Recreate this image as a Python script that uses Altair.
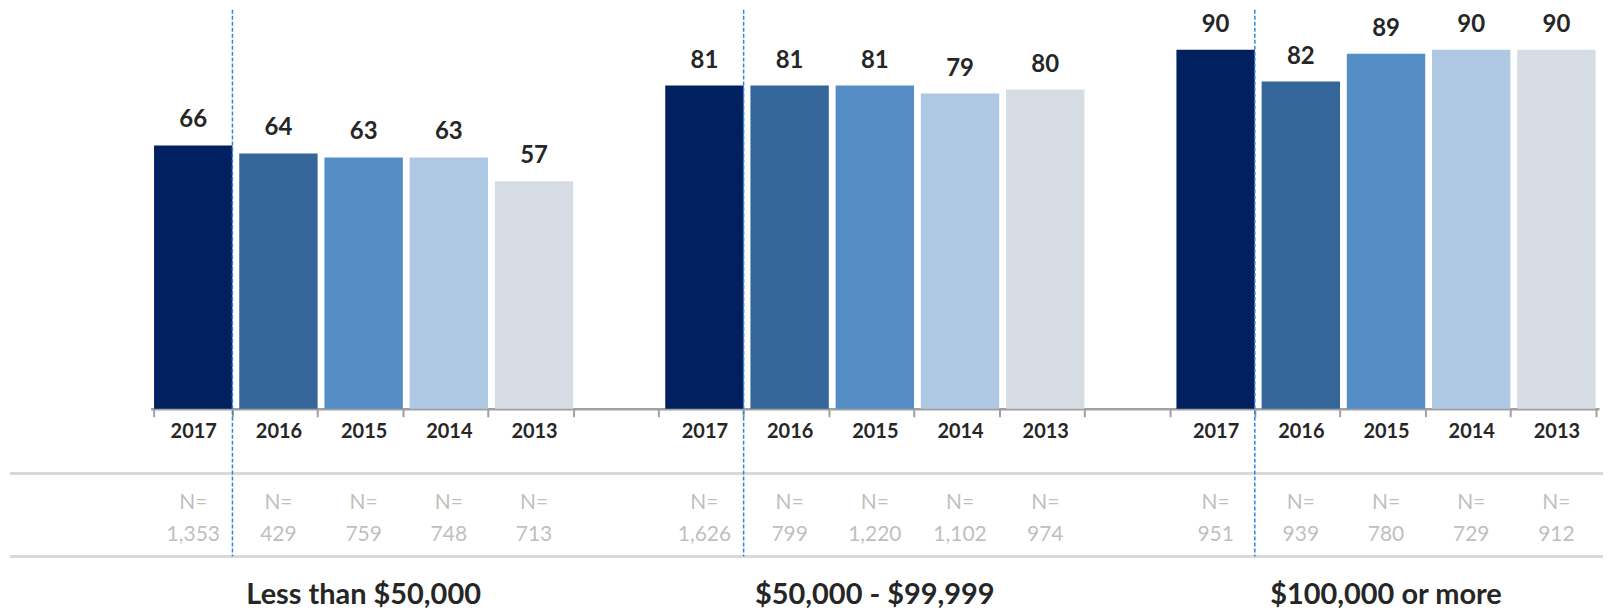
import altair as alt
import pandas as pd

groups = ["Less than $50,000", "$50,000 - $99,999", "$100,000 or more"]
years = ["2017", "2016", "2015", "2014", "2013"]
values = [
    [66, 64, 63, 63, 57],
    [81, 81, 81, 79, 80],
    [90, 82, 89, 90, 90],
]
n_labels = [
    ["1,353", "429", "759", "748", "713"],
    ["1,626", "799", "1,220", "1,102", "974"],
    ["951", "939", "780", "729", "912"],
]
colors = ["#002060", "#346699", "#558DC6", "#AEC8E4", "#D6DCE4"]

FONT = "Lato"
W, H = 1597, 400

# build slot order (5 years per group, a blank slot between groups)
slot_order = []
rows = []
for gi, g in enumerate(groups):
    for yi, yr in enumerate(years):
        s = f"{gi}|{yr}"
        slot_order.append(s)
        rows.append({"slot": s, "year": yr, "group": g,
                     "value": values[gi][yi], "n": n_labels[gi][yi]})
    if gi < len(groups) - 1:
        slot_order.append(f"gap{gi}|")
df = pd.DataFrame(rows)

grp_df = pd.DataFrame({"slot": [f"{gi}|{years[2]}" for gi in range(len(groups))],
                       "group": groups})
dash_df = pd.DataFrame({"slot": [f"{gi}|{years[0]}" for gi in range(len(groups))]})

xscale = alt.Scale(domain=slot_order, range=[141, 1593],
                   paddingInner=0.08, paddingOuter=0.04)
xaxis = alt.Axis(
    title=None, orient="bottom", grid=False,
    domainColor="#A0A0A0", domainWidth=2.5,
    tickColor="#A0A0A0", tickWidth=2, tickSize=8, tickBand="extent",
    labelExpr="split(datum.value, '|')[1]",
    labelFont=FONT, labelFontWeight="bold", labelFontSize=20,
    labelColor="#262626", labelPadding=5, labelAngle=0,
)
X = alt.X("slot:N", scale=xscale, axis=xaxis, sort=slot_order)
yscale = alt.Scale(domain=[0, 100])

bars = alt.Chart(df).mark_bar().encode(
    x=X,
    y=alt.Y("value:Q", scale=yscale, axis=None),
    color=alt.Color("year:N", scale=alt.Scale(domain=years, range=colors), legend=None),
)

val_text = alt.Chart(df).mark_text(
    font=FONT, fontWeight="bold", fontSize=24, color="#262626",
    baseline="alphabetic", dy=-18,
).encode(x=X, y=alt.Y("value:Q", scale=yscale, axis=None), text="value:Q")

n_eq = alt.Chart(df).mark_text(
    font=FONT, fontSize=21, color="#BFBFBF", baseline="middle",
).encode(x=X, y=alt.value(495), text=alt.value("N="))

n_num = alt.Chart(df).mark_text(
    font=FONT, fontSize=21, color="#BFBFBF", baseline="middle",
).encode(x=X, y=alt.value(527), text="n:N")

grp_text = alt.Chart(grp_df).mark_text(
    font=FONT, fontWeight="bold", fontSize=29, color="#262626", baseline="middle",
).encode(x=X, y=alt.value(587), text="group:N")

hline1 = alt.Chart(grp_df).mark_rule(color="#D9D9D9", strokeWidth=2.5).encode(
    x=alt.value(0), x2=alt.value(W), y=alt.value(465))
hline2 = alt.Chart(grp_df).mark_rule(color="#D9D9D9", strokeWidth=2.5).encode(
    x=alt.value(0), x2=alt.value(W), y=alt.value(548))

dashes = alt.Chart(dash_df).mark_rule(
    color="#2F86D6", strokeWidth=1.5, strokeDash=[4, 2],
).encode(x=alt.X("slot:N", scale=xscale, axis=xaxis, sort=slot_order, bandPosition=1),
         y=alt.value(0), y2=alt.value(548))

chart = alt.layer(
    bars, hline1, hline2, val_text, n_eq, n_num, grp_text, dashes
).properties(
    width=W, height=H, padding=0, background="white",
).configure_view(stroke=None)

chart.save("out.html", embed_options={"renderer": "svg", "actions": False})
